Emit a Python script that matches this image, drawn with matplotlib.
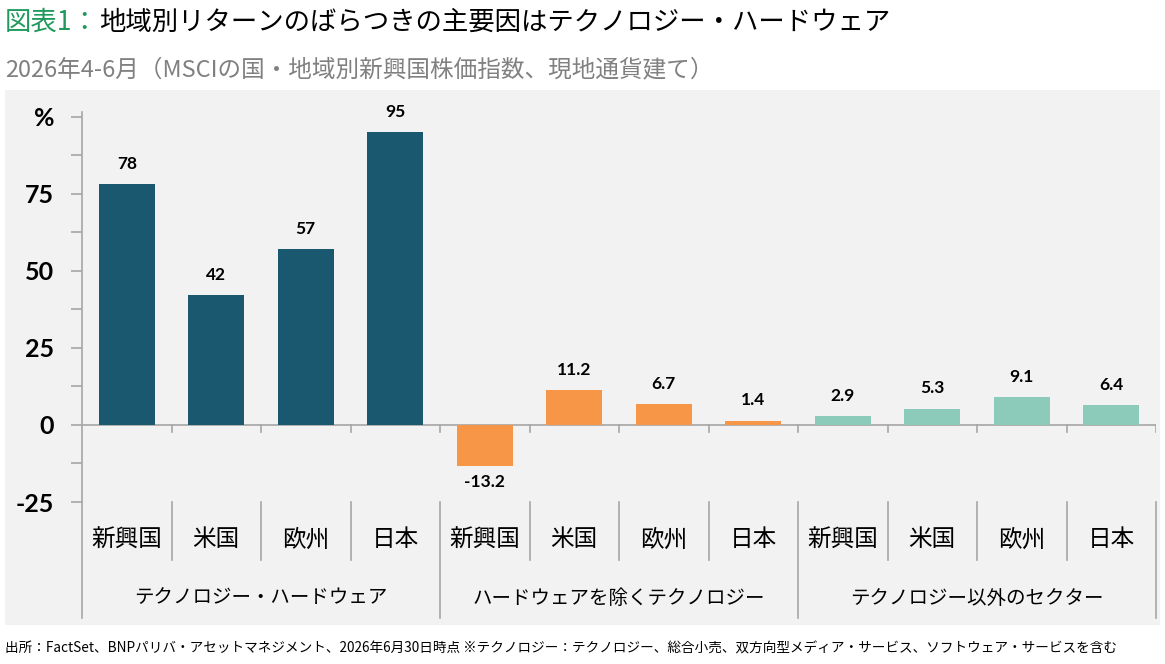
import numpy as np
import matplotlib
matplotlib.use("Agg")
import matplotlib.pyplot as plt
from matplotlib.patches import Rectangle
from matplotlib.lines import Line2D

plt.rcParams['font.family'] = ['Noto Sans CJK JP', 'DejaVu Sans']

# -----------------------------
# Data
# -----------------------------
groups = ["テクノロジー・ハードウェア", "ハードウェアを除くテクノロジー", "テクノロジー以外のセクター"]
regions = ["新興国", "米国", "欧州", "日本"]
hw_vals = [78, 42, 57, 95]
tech_ex_hw_vals = [-13.2, 11.2, 6.7, 1.4]
non_tech_vals = [2.9, 5.3, 9.1, 6.4]
group_colors = ["#1a586f", "#f79646", "#8ccbb9"]

yticks = [-25, 0, 25, 50, 75, 100]
ytick_labels = ["-25", "0", "25", "50", "75", "%"]

title_head = "図表1："
title_body = "地域別リターンのばらつきの主要因はテクノロジー・ハードウェア"
subtitle = "2026年4-6月（MSCIの国・地域別新興国株価指数、現地通貨建て）"
footnote = ("出所：FactSet、BNPパリバ・アセットマネジメント、2026年6月30日時点 "
            "※テクノロジー：テクノロジー、総合小売、双方向型メディア・サービス、ソフトウェア・サービスを含む")

num_font = ["Lato", "DejaVu Sans"]

W, H = 1165, 664
fig = plt.figure(figsize=(W / 100, H / 100), dpi=100)

# gray panel behind the chart
fig.patches.append(Rectangle((5 / W, 1 - 625 / H), 1155 / W, 535 / H,
                             transform=fig.transFigure, facecolor="#f2f2f2",
                             edgecolor="none", zorder=-10))

ax_left, ax_right = 82 / W, 1156 / W
ax_top, ax_bot = 1 - 112 / H, 1 - 502 / H
ax = fig.add_axes([ax_left, ax_bot, ax_right - ax_left, ax_top - ax_bot])
ax.set_facecolor("none")
ax.set_zorder(1)

series = [hw_vals, tech_ex_hw_vals, non_tech_vals]
n_reg = len(regions)
grid_col = "#a6a6a6"

for gi, vals in enumerate(series):
    x = np.arange(n_reg) + gi * n_reg + 0.5
    ax.bar(x, vals, width=0.63, color=group_colors[gi], zorder=3)
    for xi, v in zip(x, vals):
        txt = f"{v:.0f}" if gi == 0 else f"{v:.1f}"
        off = 14.5 if v >= 0 else -12
        ax.annotate(txt, (xi, v), xytext=(0, off), textcoords="offset points",
                    ha="center", va="center", fontsize=12.5, fontweight="bold",
                    family=num_font)

n_cat = n_reg * len(groups)
ax.set_xlim(0, n_cat)
ax.set_ylim(-25, 101.5)

for s in ["top", "right", "bottom"]:
    ax.spines[s].set_visible(False)
ax.spines["left"].set_color(grid_col)
ax.spines["left"].set_linewidth(1.2)

ax.axhline(0, color=grid_col, lw=1.2, zorder=2)

ax.set_yticks(yticks)
ax.set_yticklabels(ytick_labels)
ax.set_yticks(np.arange(-12.5, 100, 25), minor=True)
ax.tick_params(axis="y", which="both", direction="out", length=8, width=1.2,
               color=grid_col, labelsize=18, pad=12)
for lab in ax.get_yticklabels():
    lab.set_fontweight("bold")
    lab.set_family(num_font)
ax.set_xticks([])

# small ticks below the zero line at category boundaries
for b in range(1, n_cat + 1):
    ax.plot([b, b], [0, -2.3], color=grid_col, lw=1.2, zorder=2)

# category separators and labels below the axes
trans = ax.get_xaxis_transform()
ax_h_px = 502 - 112
y_cat_end = -(560 - 502) / ax_h_px
y_grp_end = -(618 - 502) / ax_h_px
for b in range(0, n_cat + 1):
    yend = y_grp_end if b % n_reg == 0 else y_cat_end
    ax.add_line(Line2D([b, b], [0, yend], transform=trans, color=grid_col,
                       lw=1.2, clip_on=False))

y_cat_lbl = -(540 - 502) / ax_h_px
y_grp_lbl = -(598 - 502) / ax_h_px
for gi, g in enumerate(groups):
    for ri, r in enumerate(regions):
        ax.text(gi * n_reg + ri + 0.5, y_cat_lbl, r, transform=trans,
                ha="center", va="center", fontsize=17)
    ax.text(gi * n_reg + n_reg / 2, y_grp_lbl, g, transform=trans,
            ha="center", va="center", fontsize=14)

# titles
t1 = fig.text(5 / W, 1 - 22 / H, title_head, color="#1f9a5c", fontsize=19,
              ha="left", va="center")
fig.canvas.draw()
bb = t1.get_window_extent()
fig.text(bb.x1 / W, 1 - 22 / H, title_body, color="black", fontsize=19,
         ha="left", va="center")
fig.text(5 / W, 1 - 70 / H, subtitle, color="#808080", fontsize=17,
         ha="left", va="center")
fig.text(5 / W, 1 - 648 / H, footnote, color="black", fontsize=9.8,
         ha="left", va="center")

fig.savefig("out.png", dpi=100)
